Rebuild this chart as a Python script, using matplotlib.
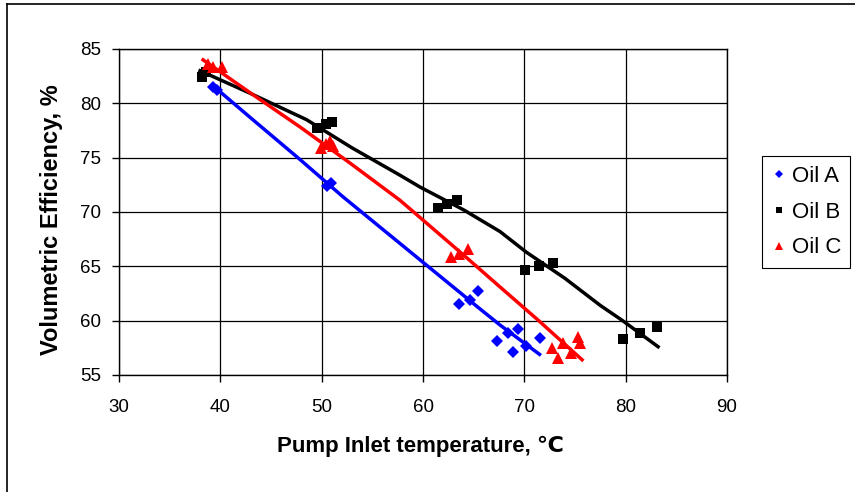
import numpy as np
import matplotlib
matplotlib.use("Agg")
import matplotlib.pyplot as plt
from matplotlib.lines import Line2D

plt.rcParams['font.family'] = ['Liberation Sans', 'DejaVu Sans']

# Oil A (blue diamonds)
oil_a_x = [39.3, 39.7, 50.5, 50.9, 63.6, 64.6, 65.4, 67.3, 68.4, 68.9, 69.4, 70.2, 71.5]
oil_a_y = [81.5, 81.2, 72.4, 72.7, 61.5, 61.9, 62.7, 58.1, 58.9, 57.1, 59.2, 57.7, 58.4]
# Oil B (black squares)
oil_b_x = [38.2, 38.6, 49.5, 50.4, 51.0, 61.5, 62.4, 63.4, 70.1, 71.4, 72.8, 79.7, 81.4, 83.1]
oil_b_y = [82.4, 82.9, 77.7, 78.1, 78.3, 70.4, 70.7, 71.1, 64.7, 65.0, 65.3, 58.3, 58.9, 59.4]
# Oil C (red triangles)
oil_c_x = [38.8, 39.3, 40.2, 49.9, 50.4, 50.8, 51.1, 62.8, 63.6, 64.4, 72.7, 73.3, 73.8, 74.6, 75.3, 75.5]
oil_c_y = [83.6, 83.3, 83.3, 75.9, 76.3, 76.5, 76.1, 65.9, 66.1, 66.6, 57.5, 56.6, 57.9, 57.0, 58.5, 57.9]

# Trend lines
trend_a_x = [39.3, 43.2, 47.9, 52.1, 65.6, 67.6, 71.5]
trend_a_y = [81.6, 78.5, 74.8, 71.4, 61.1, 59.6, 56.9]
trend_b_x = [38.0, 43.0, 48.5, 53.0, 57.7, 59.7, 64.0, 67.6, 70.2, 74.0, 77.5, 79.7, 83.2]
trend_b_y = [83.0, 80.9, 78.5, 75.9, 73.4, 72.3, 70.2, 68.2, 66.3, 63.9, 61.4, 60.0, 57.6]
trend_c_x = [38.3, 42.9, 47.9, 52.8, 57.7, 59.7, 64.3, 67.6, 71.3, 75.7]
trend_c_y = [84.0, 81.0, 77.8, 74.5, 71.1, 69.5, 65.8, 63.1, 60.1, 56.4]

labels = ["Oil A", "Oil B", "Oil C"]
colors = ["#0000FF", "#000000", "#FF0000"]
markers = ["D", "s", "^"]
marker_sizes = [6.5, 7.0, 8.8]
legend_marker_sizes = [3.6, 4.2, 5.6]

x_ticks = [30, 40, 50, 60, 70, 80, 90]
y_ticks = [55, 60, 65, 70, 75, 80, 85]

W, H = 855, 492
fig = plt.figure(figsize=(W / 100, H / 100), dpi=100)
ax = fig.add_axes([119 / W, 1 - 375 / H, (727 - 119) / W, (375 - 49) / H])

points = [(oil_a_x, oil_a_y), (oil_b_x, oil_b_y), (oil_c_x, oil_c_y)]
trends = [(trend_a_x, trend_a_y), (trend_b_x, trend_b_y), (trend_c_x, trend_c_y)]

for (px, py), (tx, ty), col, mk, ms in zip(points, trends, colors, markers, marker_sizes):
    ax.plot(tx, ty, color=col, lw=2.5, zorder=2, solid_joinstyle='round')
    ax.plot(px, py, linestyle='none', marker=mk, markersize=ms, color=col,
            markeredgewidth=0, zorder=3)

ax.set_xlim(30, 90)
ax.set_ylim(55, 85)
ax.set_xticks(x_ticks)
ax.set_yticks(y_ticks)
ax.grid(True, color='black', lw=0.9)
ax.set_axisbelow(True)
for s in ax.spines.values():
    s.set_color('black'); s.set_linewidth(1.0)
ax.tick_params(axis='y', direction='out', length=5, width=1, pad=8, labelsize=13.5)
ax.tick_params(axis='x', direction='out', length=5, width=1, pad=12, labelsize=13.5)

ax.set_xlabel("Pump Inlet temperature, \u2103", fontsize=16, fontweight='bold')
ax.set_ylabel("Volumetric Efficiency, %", fontsize=17, fontweight='bold')
ax.xaxis.set_label_coords((420 - 119) / 608, (375 - 446) / 326)
ax.yaxis.set_label_coords((52 - 119) / 608, (375 - 220) / 326)
ax.xaxis.label.set_va('center')
ax.yaxis.label.set_va('center')

handles = [Line2D([], [], linestyle='none', marker=mk, markersize=lms, color=col,
                  markeredgewidth=0)
           for mk, lms, col in zip(markers, legend_marker_sizes, colors)]
leg = fig.legend(handles=handles, labels=labels,
                 loc='center left', bbox_to_anchor=(762 / W, 1 - 212 / H),
                 fontsize=16, frameon=True, fancybox=False, framealpha=1,
                 edgecolor='black', handlelength=0.7, handletextpad=0.22,
                 labelspacing=0.67, borderpad=0.42, borderaxespad=0)
leg.get_frame().set_linewidth(0.8)

# outer frame (left and top edges visible)
fig.add_artist(Line2D([7 / W, 7 / W], [0, 1 - 4 / H], transform=fig.transFigure, color='black', lw=1.2))
fig.add_artist(Line2D([7 / W, 1], [1 - 4 / H, 1 - 4 / H], transform=fig.transFigure, color='black', lw=1.2))

fig.savefig("out.png", dpi=100)
